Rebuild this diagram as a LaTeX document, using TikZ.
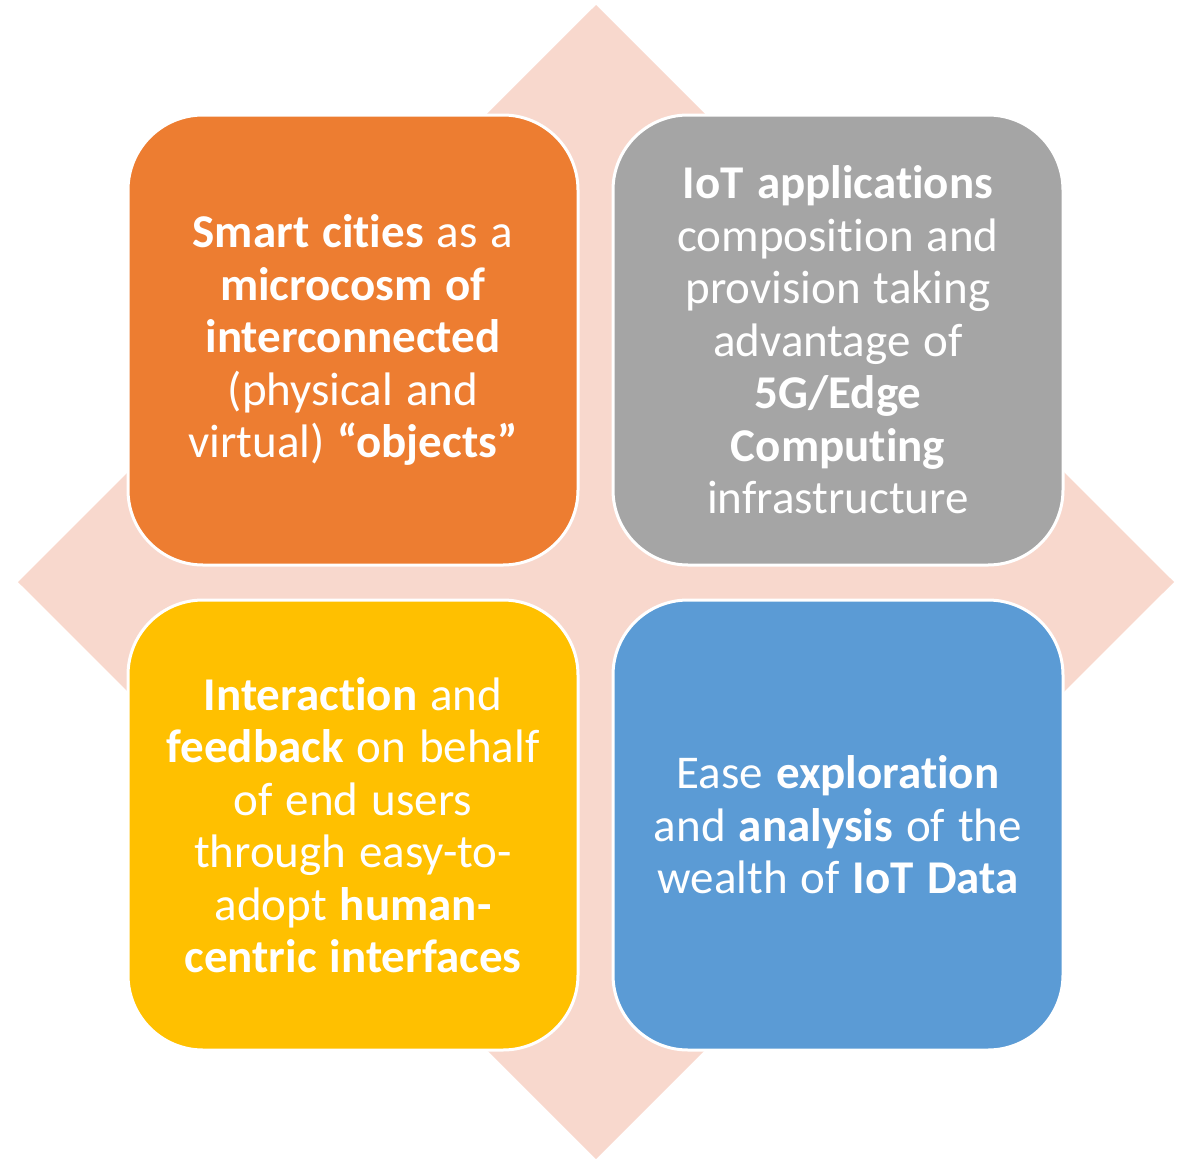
\documentclass[tikz,border=0pt]{standalone}
\usepackage{fontspec}
\setmainfont[Ligatures=NoCommon]{Carlito}
\definecolor{diamondpink}{HTML}{F8D8CD}
\definecolor{boxorange}{HTML}{ED7D31}
\definecolor{boxgray}{HTML}{A5A5A5}
\definecolor{boxyellow}{HTML}{FFC000}
\definecolor{boxblue}{HTML}{5B9BD5}
\tikzset{
  card/.style={draw=white, line width=3pt, rounded corners=75pt,
    minimum width=450pt, minimum height=450pt, inner sep=0pt,
    text=white, align=center, text width=440pt,
    font=\fontsize{47}{52.5}\selectfont,
    execute at begin node={\spaceskip=13pt\relax}},
}
\begin{document}
\begin{tikzpicture}[x=1pt,y=-1pt]
\useasboundingbox (0,0) rectangle (1189,1159);
\fill[diamondpink] (596,5) -- (1174,582) -- (596,1159) -- (18,582) -- cycle;
\node[card, fill=boxorange] (smart) at (353,340)
  {\textbf{Smart cities} as a\\ \textbf{microcosm of}\\ \textbf{interconnected}\\ (physical and\\ virtual) \textbf{“objects”}};
\node[card, fill=boxgray] (iot) at (838,340)
  {\textbf{IoT applications}\\ composition and\\ provision taking\\ advantage of\\ \textbf{5G/Edge}\\ \textbf{Computing}\\ infrastructure};
\node[card, fill=boxyellow] (inter) at (353,825)
  {\textbf{Interaction} and\\ \textbf{feedback} on behalf\\ of end users\\ through easy-to-\\ adopt \textbf{human-}\\ \textbf{centric interfaces}};
\node[card, fill=boxblue] (ease) at (838,825)
  {Ease \textbf{exploration}\\ and \textbf{analysis} of the\\ wealth of \textbf{IoT Data}};
\end{tikzpicture}
\end{document}
